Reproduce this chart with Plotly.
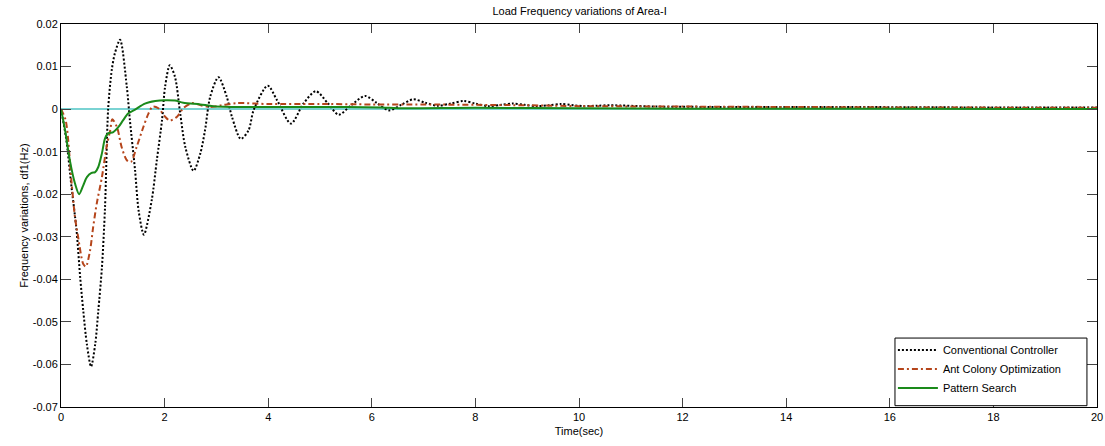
import plotly.graph_objects as go

# ---------------- data ----------------
t_conv = [0, 0.1, 0.2, 0.3, 0.37, 0.43, 0.5, 0.58, 0.66, 0.72, 0.79, 0.85, 0.91, 0.98, 1.04, 1.14,
          1.27, 1.33, 1.43, 1.5, 1.6, 1.75, 1.85, 1.95, 2.01, 2.1, 2.2, 2.3, 2.4, 2.56, 2.69, 2.78,
          2.88, 3.04, 3.2, 3.3, 3.47, 3.62, 3.72, 3.99, 4.17, 4.44, 4.68, 4.92, 5.15, 5.36, 5.6,
          5.87, 6.1, 6.33, 6.57, 6.8, 7.03, 7.27, 7.52, 7.77, 8.0, 8.25, 8.5, 8.72, 8.95, 9.2,
          9.42, 9.65, 9.9, 10.1, 10.35, 10.6, 11.5, 13.0, 15.0, 17.5, 20.0]
conv = [0, -0.007, -0.018, -0.0285, -0.0395, -0.0474, -0.0553, -0.0605, -0.0553, -0.0474, -0.0372,
        -0.023, 0.0, 0.0092, 0.0131, 0.0163, 0.0053, -0.0026, -0.0144, -0.024, -0.0295, -0.0215,
        -0.012, -0.0026, 0.0053, 0.0103, 0.0076, -0.0009, -0.0089, -0.0145, -0.0104, -0.005,
        0.0029, 0.0075, 0.0029, -0.0018, -0.0070, -0.005, -0.0002, 0.0055, 0.0021, -0.0034,
        0.0013, 0.0042, 0.0014, -0.0013, 0.0009, 0.0031, 0.0014, -0.0003, 0.001, 0.0023, 0.0015,
        0.0008, 0.0013, 0.0019, 0.0013, 0.0007, 0.0010, 0.0013, 0.0010, 0.0007, 0.0009, 0.0012,
        0.0009, 0.0007, 0.0008, 0.0009, 0.0006, 0.0005, 0.0005, 0.0004, 0.0004]

t_aco = [0, 0.09, 0.2, 0.27, 0.33, 0.43, 0.48, 0.56, 0.62, 0.69, 0.79, 0.88, 0.95, 0.99, 1.08,
         1.17, 1.27, 1.35, 1.46, 1.59, 1.69, 1.77, 1.88, 2.01, 2.1, 2.24, 2.36, 2.53, 2.7, 2.88,
         3.1, 3.4, 4.0, 5.0, 6.0, 7.0, 8.0, 9.0, 10.0, 12.0, 14.0, 16.0, 20.0]
aco = [0, -0.0026, -0.0167, -0.0254, -0.030, -0.0364, -0.037, -0.0333, -0.0278, -0.0222, -0.016,
       -0.0089, -0.005, -0.0024, -0.0042, -0.0089, -0.012, -0.0124, -0.0089, -0.0042, -0.001,
       0.0006, 0.0002, -0.0018, -0.0027, -0.0018, 0.0002, 0.0014, 0.0009, 0.0005, 0.0009, 0.0014,
       0.0012, 0.0012, 0.0011, 0.0011, 0.0010, 0.0009, 0.0007, 0.0006, 0.0005, 0.0004, 0.0003]

t_ps = [0, 0.08, 0.17, 0.27, 0.35, 0.43, 0.5, 0.59, 0.66, 0.72, 0.79, 0.85, 0.91, 1.01, 1.11,
        1.2, 1.3, 1.43, 1.62, 1.82, 2.01, 2.2, 2.36, 2.69, 2.94, 3.5, 4.5, 5.5, 6.2, 6.5, 8.0,
        10.0, 12.0, 16.0, 20.0]
ps = [0, -0.005, -0.012, -0.0175, -0.0200, -0.0179, -0.016, -0.015, -0.0148, -0.0136, -0.0104,
      -0.0069, -0.0057, -0.0054, -0.0042, -0.0026, -0.001, -0.0001, 0.0013, 0.0019, 0.0021,
      0.0020, 0.0015, 0.0011, 0.0007, 0.0005, 0.0005, 0.0005, 0.0004, 0.0002, 0.0003, 0.0002,
      0.0001, 0.0001, 0.0]

x_ticks = [0, 2, 4, 6, 8, 10, 12, 14, 16, 18, 20]
y_ticks = [0.02, 0.01, 0, -0.01, -0.02, -0.03, -0.04, -0.05, -0.06, -0.07]
y_tick_labels = ["0.02", "0.01", "0", "-0.01", "-0.02", "-0.03", "-0.04", "-0.05", "-0.06", "-0.07"]
zero_level = 0.0

names = ["Conventional Controller", "Ant Colony Optimization", "Pattern Search"]

FONT = "Liberation Sans, Arial, sans-serif"

fig = go.Figure()

fig.add_hline(y=zero_level, line=dict(color="#4ec4c4", width=1.5), layer="below")

fig.add_trace(go.Scatter(x=t_conv, y=conv, mode="lines", name=names[0],
                         line=dict(color="black", width=2, dash="2px,2px", shape="spline", smoothing=0.8)))
fig.add_trace(go.Scatter(x=t_aco, y=aco, mode="lines", name=names[1],
                         line=dict(color="#b5451b", width=2, dash="6px,3px,2px,3px", shape="spline", smoothing=0.8)))
fig.add_trace(go.Scatter(x=t_ps, y=ps, mode="lines", name=names[2],
                         line=dict(color="#1a8a1a", width=2, shape="spline", smoothing=0.8)))

# legend frame (MATLAB-style box, a little wider than the entries)
fig.add_shape(type="rect", xref="x domain", yref="y domain",
              x0=0.805, x1=0.9903, y0=0.0034, y1=0.180,
              line=dict(color="black", width=1), fillcolor="white", layer="above")

fig.update_layout(
    width=1105, height=446,
    margin=dict(l=61, r=8, t=24, b=39, autoexpand=False),
    paper_bgcolor="white", plot_bgcolor="white",
    font=dict(family=FONT, size=11, color="black"),
    title=dict(text="Load Frequency variations of Area-I", x=0.5245, xanchor="center",
               y=0.975, yanchor="middle", automargin=False,
               font=dict(family=FONT, size=11, color="black")),
    legend=dict(x=0.803, xanchor="left", y=0.187, yanchor="top",
                bgcolor="rgba(0,0,0,0)", borderwidth=0,
                font=dict(family=FONT, size=11, color="black"),
                tracegroupgap=0, itemwidth=40),
    showlegend=True,
)

fig.update_xaxes(range=[0, 20], tickvals=x_ticks, ticktext=[str(v) for v in x_ticks],
                 ticks="inside", ticklen=9, tickcolor="#444", mirror="ticks",
                 showline=True, linecolor="black", linewidth=1, showgrid=False, zeroline=False,
                 automargin=False,
                 title=dict(text="Time(sec)", standoff=5, font=dict(family=FONT, size=11)))
fig.update_yaxes(range=[-0.07, 0.02], tickvals=y_ticks, ticktext=y_tick_labels,
                 ticks="inside", ticklen=10, tickcolor="#444", mirror="ticks",
                 showline=True, linecolor="black", linewidth=1, showgrid=False, zeroline=False,
                 automargin=False,
                 title=dict(text="Frequency variations, df1(Hz)", standoff=1, font=dict(family=FONT, size=11)))

fig.write_html("out.html", config={"displayModeBar": False},
               post_script="document.body.style.margin='0';document.body.style.overflow='hidden';")
